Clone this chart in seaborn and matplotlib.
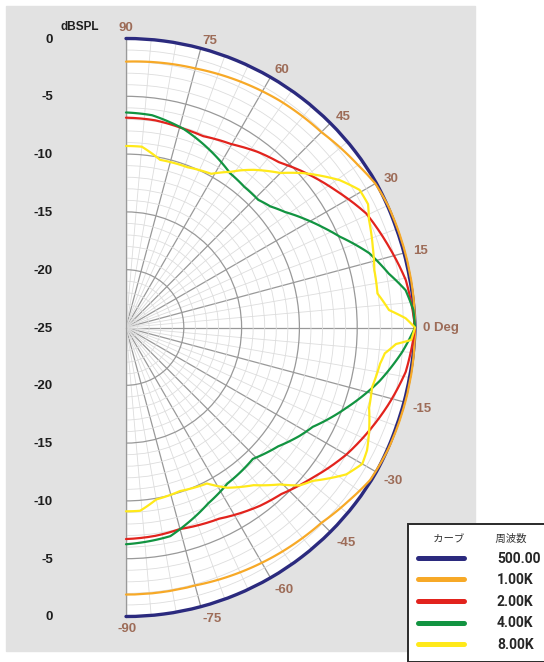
import numpy as np
import matplotlib
matplotlib.use("Agg")
import matplotlib.pyplot as plt
import matplotlib.patches as mpatches
from matplotlib.lines import Line2D
from matplotlib.font_manager import FontProperties
import seaborn as sns

# ---------------------------------------------------------------
# Data (angle in degrees, level in dBSPL, normalised to 0 on axis)
# ---------------------------------------------------------------
ang_500 = [-90, -75, -60, -45, -30, -20, -10, 0, 10, 20, 30, 45, 60, 75, 90]
db_500 = [0, 0, 0, 0, 0, -0.1, -0.1, 0, -0.1, -0.1, 0, 0, 0, 0, 0]

ang_1k = [-90, -75, -60, -45, -38, -32, -25, -15, 0, 15, 25, 30, 35, 45, 56, 75, 90]
db_1k = [-1.9, -1.9, -1.5, -1.1, -0.6, -0.1, 0, 0, 0, 0, 0, -0.1, -0.5, -1.1, -1.3, -1.8, -2.0]

ang_2k = [-90, -82, -75, -64, -53, -47, -39, -30, -23, -16, -9, 0,
          9.6, 17, 25.4, 33, 42, 47, 53, 60, 68, 74, 82, 90]
db_2k = [-6.7, -6.8, -6.95, -6.6, -5.7, -5.3, -4.3, -3.0, -2.15, -1.3, -0.5, 0,
         -0.45, -1.2, -2.0, -3.3, -4.7, -5.5, -6.0, -6.7, -7.15, -7.1, -6.9, -6.85]

ang_4k = [-90, -78, -73, -65, -57, -46, -38, -32, -28, -20, -12, -5, 0,
          3.5, 7.6, 11.6, 17, 23, 27, 31, 36, 40, 44, 50, 56, 66, 74, 83, 90]
db_4k = [-6.25, -6.55, -7.2, -8.2, -8.9, -9.2, -8.3, -7.3, -6.7, -4.7, -2.6, -1.0, 0,
         -0.1, -0.6, -1.8, -3.0, -4.9, -5.9, -6.85, -8.0, -8.7, -9.1, -9.1, -8.9, -7.9, -7.1, -6.5, -6.4]

ang_8k = [-90, -85.6, -80, -71.7, -62.6, -57.7, -51, -45.6, -42.3, -39.4, -33.7, -30, -27,
          -23, -18.3, -13.7, -8.1, -5.7, -3.5, -2.5, 0,
          1.9, 3.8, 7.7, 13, 18, 24, 27, 30.5, 34.6, 41, 45, 51, 54, 56, 61, 69, 78.5, 85, 90]
db_8k = [-9.1, -9.1, -9.9, -10.1, -9.8, -8.6, -7.45, -6.0, -4.7, -4.1, -2.1, -1.4, -1.6,
         -2.15, -2.85, -3.1, -2.8, -2.5, -1.6, -0.3, 0,
         -0.8, -2.2, -3.05, -2.95, -2.55, -2.0, -1.5, -1.55, -2.55, -4.65, -6.1, -7.45, -8.2, -8.75, -9.8, -10.15, -10.2, -9.3, -9.3]

freq_labels = ["500.00", "1.00K", "2.00K", "4.00K", "8.00K"]
curve_angles = [ang_500, ang_1k, ang_2k, ang_4k, ang_8k]
curve_levels = [db_500, db_1k, db_2k, db_4k, db_8k]
curve_colors = ["#2b2a7e", "#f7a927", "#e2231d", "#129441", "#ffe91a"]
curve_widths = [2.4, 1.6, 1.6, 1.6, 1.6]

angle_ticks = [90, 75, 60, 45, 30, 15, 0, -15, -30, -45, -60, -75, -90]
level_ticks = [0, -5, -10, -15, -20]

# ---------------------------------------------------------------
# Figure
# ---------------------------------------------------------------
sns.set_style("white")
plt.rcParams["font.family"] = ["Liberation Sans", "DejaVu Sans"]

W, H = 544, 662
fig = plt.figure(figsize=(W / 100, H / 100), dpi=100)
fig.patch.set_facecolor("white")
fig.patches.append(mpatches.Rectangle((6 / W, 1 - 651 / H), 469 / W, 645 / H,
                                      transform=fig.transFigure, color="#e2e2e2", zorder=-5))

# half-disc: centre at (cx, cy) px from top-left, radius R px
R = 289
cx, cy = 126, 327.5
ax = fig.add_axes([(cx - R / 2) / W, 1 - (cy + R) / H, 2 * R / W, 2 * R / H], projection="polar")
ax.set_thetamin(-90)
ax.set_thetamax(90)
ax.set_ylim(-25, 0)
ax.set_facecolor("white")

ax.set_xticks(np.deg2rad(np.arange(-90, 91, 15)))
ax.set_xticks(np.deg2rad(np.arange(-90, 91, 5)), minor=True)
ax.set_yticks([-20, -15, -10, -5])
ax.set_yticks(np.arange(-24, 0, 1), minor=True)
ax.set_xticklabels([])
ax.set_yticklabels([])
ax.tick_params(which="both", length=0)
ax.grid(True, which="minor", color="#dddddd", linewidth=0.6)
ax.grid(True, which="major", color="#999999", linewidth=0.9)
ax.spines["polar"].set_visible(False)
for s in ("start", "end"):
    ax.spines[s].set_color("#999999")
    ax.spines[s].set_linewidth(0.9)

for a, d, c, lw in zip(curve_angles, curve_levels, curve_colors, curve_widths):
    sns.lineplot(x=np.deg2rad(a), y=d, ax=ax, color=c, linewidth=lw,
                 sort=False, estimator=None, clip_on=False, zorder=3)
# draw segments along (theta, r) instead of straight chords
for ln in ax.get_lines():
    ln.get_path()._interpolation_steps = 24

# angle labels
brown = "#9d6c58"
for t in angle_ticks:
    th = np.deg2rad(t)
    if t == 90:
        txt, off, ha = "90", (0, 11), "center"
    elif t == -90:
        txt, off, ha = "-90", (1, -13), "center"
    else:
        txt = "0 Deg" if t == 0 else str(t)
        off = (8 * np.cos(th), 8 * np.sin(th) - (5 if t < 0 else 0))
        ha = "left"
    ax.annotate(txt, xy=(th, 0), xytext=off, textcoords="offset pixels",
                ha=ha, va="center", color=brown, fontsize=9.5, fontweight="bold",
                annotation_clip=False)

# level labels on the left
for v in level_ticks:
    for t in (90, -90):
        ax.annotate(str(v), xy=(np.deg2rad(t), v), xytext=(-73, -1),
                    textcoords="offset pixels", ha="right", va="center",
                    fontsize=9.5, fontweight="bold", color="#1e1e1e",
                    annotation_clip=False)
ax.annotate("-25", xy=(0, -25), xytext=(-73, -1), textcoords="offset pixels",
            ha="right", va="center", fontsize=9.5, fontweight="bold",
            color="#1e1e1e", annotation_clip=False)
fig.text(80 / W, 1 - 27 / H, "dBSPL", ha="center", va="center",
         fontsize=8.5, fontweight="bold", color="#1e1e1e")

# legend
handles = [Line2D([], [], color=c, linewidth=3.6) for c in curve_colors]
leg = fig.legend(handles, freq_labels, loc="upper left",
                 bbox_to_anchor=(408 / W, 1 - 524 / H), bbox_transform=fig.transFigure,
                 borderaxespad=0, borderpad=0.7, frameon=True, fancybox=False,
                 edgecolor="#2a2a2a", framealpha=1, handlelength=3.3,
                 handletextpad=2.4, labelspacing=0.55,
                 prop=FontProperties(family="Roboto", weight="bold", size=10),
                 title="\u3000  カーブ\u3000\u3000\u3000周波数", alignment="left",
                 title_fontproperties=FontProperties(family=["Noto Sans CJK JP", "DejaVu Sans"], size=7.5))
leg.get_frame().set_linewidth(1.4)
leg.get_title().set_color("#333333")

fig.savefig("out.png", dpi=100)
